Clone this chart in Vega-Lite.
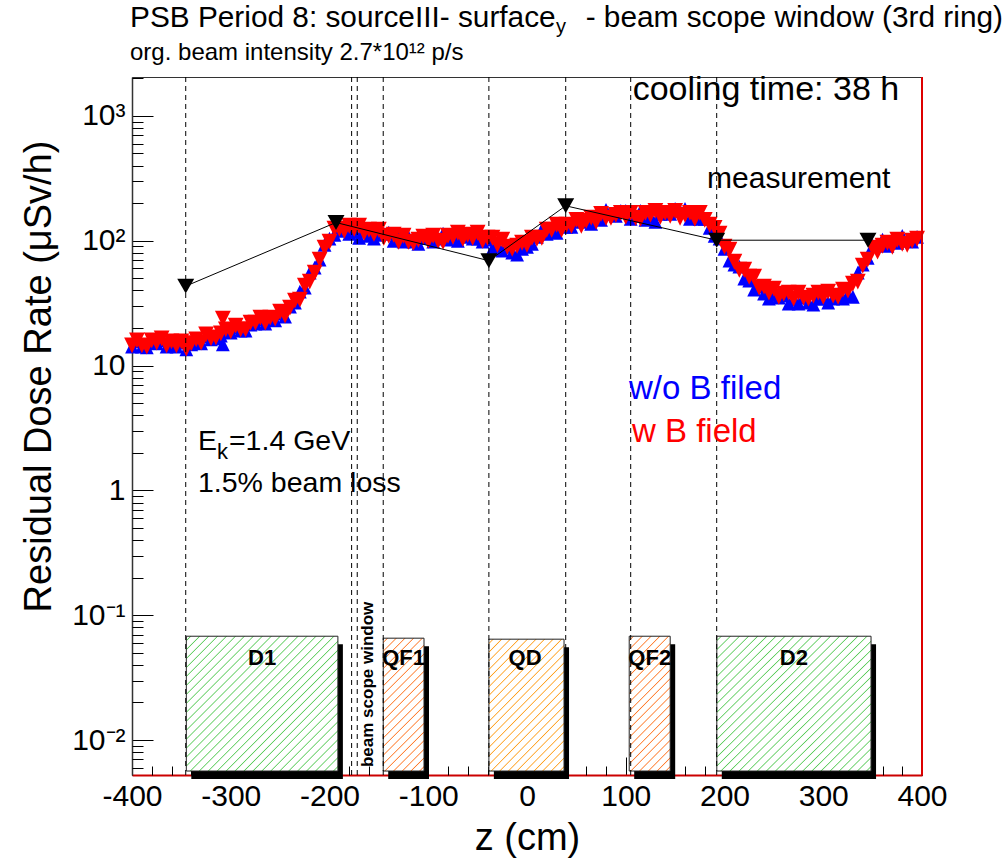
{
"$schema": "https://vega.github.io/schema/vega-lite/v6.json",
"width": 790, "height": 698,
"autosize": {"type": "none"},
"padding": {"left": 132, "top": 77, "right": 84, "bottom": 83},
"background": "white",
"config": {"view": {"stroke": "#333", "strokeWidth": 1}, "font": "Liberation Sans", "axis": {"labelFont": "Liberation Sans", "titleFont": "Liberation Sans", "labelColor": "black", "titleColor": "black", "titleFontWeight": "normal", "grid": false}},
"resolve": {"axis": {"x": "independent", "y": "independent"}},
"datasets": {
"curve": [
{"z":-400,"w":14.5,"wo":14.2},{"z":-395,"w":15.9,"wo":15.6},{"z":-390,"w":14.5,"wo":14.2},{"z":-385,"w":14.2,"wo":14.0},{"z":-380,"w":15.9,"wo":15.3},{"z":-375,"w":15.3,"wo":15.1},{"z":-370,"w":16.5,"wo":15.9},{"z":-365,"w":14.5,"wo":14.2},{"z":-360,"w":15.6,"wo":15.1},{"z":-355,"w":14.5,"wo":14.2},{"z":-350,"w":15.6,"wo":15.3},{"z":-345,"w":13.7,"wo":13.5},{"z":-340,"w":15.1,"wo":14.8},{"z":-335,"w":16.2,"wo":15.6},{"z":-330,"w":15.3,"wo":15.1},{"z":-325,"w":17.8,"wo":17.1},{"z":-320,"w":16.5,"wo":16.2},{"z":-315,"w":16.8,"wo":16.5},{"z":-310,"w":18.1,"wo":17.4},{"z":-308,"w":23.8,"wo":14.8},{"z":-305,"w":19.5,"wo":18.8},{"z":-300,"w":18.8,"wo":18.4},{"z":-295,"w":20.9,"wo":20.2},{"z":-290,"w":19.5,"wo":19.1},{"z":-285,"w":19.5,"wo":19.1},{"z":-280,"w":22.1,"wo":21.3},{"z":-275,"w":22.1,"wo":21.7},{"z":-270,"w":24.2,"wo":23.4},{"z":-265,"w":22.1,"wo":21.7},{"z":-260,"w":24.2,"wo":23.4},{"z":-255,"w":23.8,"wo":23.0},{"z":-250,"w":27.0,"wo":26.1},{"z":-245,"w":25.1,"wo":24.7},{"z":-240,"w":29.1,"wo":29.7},{"z":-235,"w":33.1,"wo":31.9},{"z":-230,"w":33.7,"wo":39.1},{"z":-225,"w":43.7,"wo":42.1},{"z":-220,"w":47.0,"wo":55.5},{"z":-215,"w":55.5,"wo":60.8},{"z":-210,"w":70.5,"wo":70.5},{"z":-205,"w":87.9,"wo":92.9},{"z":-200,"w":98.2,"wo":103.8},{"z":-195,"w":124.7,"wo":111.7},{"z":-190,"w":124.7,"wo":120.2},{"z":-185,"w":120.2,"wo":129.4},{"z":-180,"w":131.8,"wo":113.8},{"z":-175,"w":124.7,"wo":118.0},{"z":-170,"w":131.8,"wo":105.7},{"z":-165,"w":115.9,"wo":120.2},{"z":-160,"w":122.5,"wo":109.6},{"z":-155,"w":113.8,"wo":103.8},{"z":-150,"w":122.5,"wo":111.7},{"z":-145,"w":105.7,"wo":113.8},{"z":-140,"w":109.6,"wo":115.9},{"z":-135,"w":111.7,"wo":100},{"z":-130,"w":98.2,"wo":105.7},{"z":-125,"w":109.6,"wo":98.2},{"z":-120,"w":98.2,"wo":107.6},{"z":-115,"w":96.4,"wo":98.2},{"z":-110,"w":101.9,"wo":94.6},{"z":-105,"w":107.6,"wo":105.7},{"z":-100,"w":100,"wo":105.7},{"z":-95,"w":109.6,"wo":98.2},{"z":-90,"w":100,"wo":103.8},{"z":-85,"w":98.2,"wo":113.8},{"z":-80,"w":109.6,"wo":101.9},{"z":-75,"w":107.6,"wo":109.6},{"z":-70,"w":115.9,"wo":100},{"z":-65,"w":103.8,"wo":115.9},{"z":-60,"w":111.7,"wo":107.6},{"z":-55,"w":105.7,"wo":103.8},{"z":-50,"w":115.9,"wo":103.8},{"z":-45,"w":100,"wo":98.2},{"z":-40,"w":105.7,"wo":101.9},{"z":-35,"w":105.7,"wo":86.3},{"z":-30,"w":92.9,"wo":91.2},{"z":-25,"w":101.9,"wo":83.2},{"z":-20,"w":89.5,"wo":89.5},{"z":-15,"w":86.3,"wo":80.2},{"z":-10,"w":91.2,"wo":77.3},{"z":-5,"w":96.4,"wo":86.3},{"z":0,"w":92.9,"wo":89.5},{"z":5,"w":105.7,"wo":94.6},{"z":10,"w":103.8,"wo":107.6},{"z":15,"w":105.7,"wo":122.5},{"z":20,"w":122.5,"wo":113.8},{"z":25,"w":122.5,"wo":124.7},{"z":30,"w":134.3,"wo":115.9},{"z":35,"w":122.5,"wo":136.8},{"z":40,"w":134.3,"wo":129.4},{"z":45,"w":131.8,"wo":129.4},{"z":50,"w":147.2,"wo":144.5},{"z":55,"w":131.8,"wo":141.9},{"z":60,"w":144.5,"wo":152.8},{"z":65,"w":152.8,"wo":136.8},{"z":70,"w":141.9,"wo":152.8},{"z":75,"w":164.4,"wo":147.2},{"z":80,"w":152.8,"wo":177.0},{"z":85,"w":152.8,"wo":164.4},{"z":90,"w":161.4,"wo":158.5},{"z":95,"w":167.5,"wo":173.8},{"z":100,"w":155.6,"wo":173.8},{"z":105,"w":167.5,"wo":150.0},{"z":110,"w":152.8,"wo":158.5},{"z":115,"w":150.0,"wo":173.8},{"z":120,"w":167.5,"wo":147.2},{"z":125,"w":161.4,"wo":155.6},{"z":130,"w":173.8,"wo":141.9},{"z":135,"w":155.6,"wo":164.4},{"z":140,"w":167.5,"wo":170.6},{"z":145,"w":158.5,"wo":164.4},{"z":150,"w":173.8,"wo":180.3},{"z":155,"w":152.8,"wo":173.8},{"z":160,"w":161.4,"wo":180.3},{"z":165,"w":167.5,"wo":150.0},{"z":170,"w":150.0,"wo":161.4},{"z":175,"w":167.5,"wo":150.0},{"z":180,"w":147.2,"wo":150.0},{"z":185,"w":134.3,"wo":127.0},{"z":190,"w":127.0,"wo":109.6},{"z":195,"w":113.8,"wo":103.8},{"z":200,"w":89.5,"wo":86.3},{"z":205,"w":84.7,"wo":69.2},{"z":210,"w":67.9,"wo":64.3},{"z":215,"w":58.6,"wo":62.0},{"z":220,"w":58.6,"wo":49.7},{"z":225,"w":51.5,"wo":47.9},{"z":230,"w":51.5,"wo":40.6},{"z":235,"w":42.1,"wo":42.9},{"z":240,"w":42.9,"wo":37.7},{"z":245,"w":38.4,"wo":34.4},{"z":250,"w":41.3,"wo":37.0},{"z":255,"w":35.6,"wo":35.0},{"z":260,"w":37.7,"wo":36.3},{"z":265,"w":38.4,"wo":31.3},{"z":270,"w":34.4,"wo":33.7},{"z":275,"w":38.4,"wo":31.3},{"z":280,"w":35.0,"wo":35.0},{"z":285,"w":34.4,"wo":31.9},{"z":290,"w":36.3,"wo":30.8},{"z":295,"w":38.4,"wo":34.4},{"z":300,"w":35.6,"wo":34.4},{"z":305,"w":39.1,"wo":31.9},{"z":310,"w":36.3,"wo":34.4},{"z":315,"w":35.6,"wo":37.7},{"z":320,"w":40.6,"wo":34.4},{"z":325,"w":39.8,"wo":37.0},{"z":330,"w":45.3,"wo":35.6},{"z":335,"w":47.0,"wo":55.5},{"z":340,"w":63.1,"wo":64.3},{"z":345,"w":70.5,"wo":73.1},{"z":350,"w":87.9,"wo":91.2},{"z":355,"w":81.7,"wo":92.9},{"z":360,"w":91.2,"wo":101.9},{"z":365,"w":96.4,"wo":91.2},{"z":370,"w":89.5,"wo":101.9},{"z":375,"w":101.9,"wo":96.4},{"z":380,"w":94.6,"wo":109.6},{"z":385,"w":92.9,"wo":100},{"z":390,"w":100,"wo":98.2},{"z":395,"w":103.8,"wo":107.6}
],
"meas": [{"z":-345.6,"d":43.3},{"z":-193.4,"d":140},{"z":-38.6,"d":69.2},{"z":39.2,"d":190.5},{"z":192.1,"d":101},{"z":345.3,"d":101}],
"magnets": [
{"name":"D1","kind":"D","z1":-345,"z2":-191.5,"top":0.0679,"bot":0.00565,"zc":-268.3},
{"name":"QF1","kind":"QF","z1":-145.6,"z2":-104.3,"top":0.0655,"bot":0.00565,"zc":-125},
{"name":"QD","kind":"QD","z1":-38.6,"z2":37.5,"top":0.0643,"bot":0.00565,"zc":-2},
{"name":"QF2","kind":"QF","z1":103.5,"z2":145,"top":0.0679,"bot":0.00565,"zc":124.3},
{"name":"D2","kind":"D","z1":192.2,"z2":348.4,"top":0.0679,"bot":0.00565,"zc":270.3}
],
"lines": [{"z":-345.6},{"z":-177.6},{"z":-171.9},{"z":-145.6},{"z":-38.6},{"z":39.2},{"z":105},{"z":192.1}]
},
"layer": [
{"data":{"name":"magnets"},
 "mark":{"type":"rect","fill":"black","xOffset":5,"x2Offset":5,"yOffset":8,"y2Offset":8},
 "encoding":{"x":{"field":"z1","type":"quantitative","scale":{"domain":[-400,400],"nice":false,"zero":false},"axis":null},"x2":{"field":"z2"},
  "y":{"field":"top","type":"quantitative","scale":{"type":"log","domain":[0.00525,2050],"nice":false},"axis":null},"y2":{"field":"bot"}}},
{"data":{"name":"magnets"},"transform":[{"filter":"datum.kind === 'D'"}],
 "mark":{"type":"rect","stroke":"#222","strokeWidth":1,"fill":{"gradient":"linear","x1":0,"y1":0,"x2":1.0555,"y2":0.9375,"stops":[
 {"offset":0.0116,"color":"#ffffff"},{"offset":0.0156,"color":"#5ccc5c"},{"offset":0.0196,"color":"#ffffff"},
 {"offset":0.0429,"color":"#ffffff"},{"offset":0.0469,"color":"#5ccc5c"},{"offset":0.0509,"color":"#ffffff"},
 {"offset":0.0741,"color":"#ffffff"},{"offset":0.0781,"color":"#5ccc5c"},{"offset":0.0821,"color":"#ffffff"},
 {"offset":0.1054,"color":"#ffffff"},{"offset":0.1094,"color":"#5ccc5c"},{"offset":0.1134,"color":"#ffffff"},
 {"offset":0.1366,"color":"#ffffff"},{"offset":0.1406,"color":"#5ccc5c"},{"offset":0.1446,"color":"#ffffff"},
 {"offset":0.1679,"color":"#ffffff"},{"offset":0.1719,"color":"#5ccc5c"},{"offset":0.1759,"color":"#ffffff"},
 {"offset":0.1991,"color":"#ffffff"},{"offset":0.2031,"color":"#5ccc5c"},{"offset":0.2071,"color":"#ffffff"},
 {"offset":0.2304,"color":"#ffffff"},{"offset":0.2344,"color":"#5ccc5c"},{"offset":0.2384,"color":"#ffffff"},
 {"offset":0.2616,"color":"#ffffff"},{"offset":0.2656,"color":"#5ccc5c"},{"offset":0.2696,"color":"#ffffff"},
 {"offset":0.2929,"color":"#ffffff"},{"offset":0.2969,"color":"#5ccc5c"},{"offset":0.3009,"color":"#ffffff"},
 {"offset":0.3241,"color":"#ffffff"},{"offset":0.3281,"color":"#5ccc5c"},{"offset":0.3321,"color":"#ffffff"},
 {"offset":0.3554,"color":"#ffffff"},{"offset":0.3594,"color":"#5ccc5c"},{"offset":0.3634,"color":"#ffffff"},
 {"offset":0.3866,"color":"#ffffff"},{"offset":0.3906,"color":"#5ccc5c"},{"offset":0.3946,"color":"#ffffff"},
 {"offset":0.4179,"color":"#ffffff"},{"offset":0.4219,"color":"#5ccc5c"},{"offset":0.4259,"color":"#ffffff"},
 {"offset":0.4491,"color":"#ffffff"},{"offset":0.4531,"color":"#5ccc5c"},{"offset":0.4571,"color":"#ffffff"},
 {"offset":0.4804,"color":"#ffffff"},{"offset":0.4844,"color":"#5ccc5c"},{"offset":0.4884,"color":"#ffffff"},
 {"offset":0.5116,"color":"#ffffff"},{"offset":0.5156,"color":"#5ccc5c"},{"offset":0.5196,"color":"#ffffff"},
 {"offset":0.5429,"color":"#ffffff"},{"offset":0.5469,"color":"#5ccc5c"},{"offset":0.5509,"color":"#ffffff"},
 {"offset":0.5741,"color":"#ffffff"},{"offset":0.5781,"color":"#5ccc5c"},{"offset":0.5821,"color":"#ffffff"},
 {"offset":0.6054,"color":"#ffffff"},{"offset":0.6094,"color":"#5ccc5c"},{"offset":0.6134,"color":"#ffffff"},
 {"offset":0.6366,"color":"#ffffff"},{"offset":0.6406,"color":"#5ccc5c"},{"offset":0.6446,"color":"#ffffff"},
 {"offset":0.6679,"color":"#ffffff"},{"offset":0.6719,"color":"#5ccc5c"},{"offset":0.6759,"color":"#ffffff"},
 {"offset":0.6991,"color":"#ffffff"},{"offset":0.7031,"color":"#5ccc5c"},{"offset":0.7071,"color":"#ffffff"},
 {"offset":0.7304,"color":"#ffffff"},{"offset":0.7344,"color":"#5ccc5c"},{"offset":0.7384,"color":"#ffffff"},
 {"offset":0.7616,"color":"#ffffff"},{"offset":0.7656,"color":"#5ccc5c"},{"offset":0.7696,"color":"#ffffff"},
 {"offset":0.7929,"color":"#ffffff"},{"offset":0.7969,"color":"#5ccc5c"},{"offset":0.8009,"color":"#ffffff"},
 {"offset":0.8241,"color":"#ffffff"},{"offset":0.8281,"color":"#5ccc5c"},{"offset":0.8321,"color":"#ffffff"},
 {"offset":0.8554,"color":"#ffffff"},{"offset":0.8594,"color":"#5ccc5c"},{"offset":0.8634,"color":"#ffffff"},
 {"offset":0.8866,"color":"#ffffff"},{"offset":0.8906,"color":"#5ccc5c"},{"offset":0.8946,"color":"#ffffff"},
 {"offset":0.9179,"color":"#ffffff"},{"offset":0.9219,"color":"#5ccc5c"},{"offset":0.9259,"color":"#ffffff"},
 {"offset":0.9491,"color":"#ffffff"},{"offset":0.9531,"color":"#5ccc5c"},{"offset":0.9571,"color":"#ffffff"},
 {"offset":0.9804,"color":"#ffffff"},{"offset":0.9844,"color":"#5ccc5c"},{"offset":0.9884,"color":"#ffffff"}]}},
 "encoding":{"x":{"field":"z1","type":"quantitative","scale":{"domain":[-400,400],"nice":false,"zero":false},"axis":null},"x2":{"field":"z2"},
  "y":{"field":"top","type":"quantitative","scale":{"type":"log","domain":[0.00525,2050],"nice":false},"axis":null},"y2":{"field":"bot"}}},
{"data":{"name":"magnets"},"transform":[{"filter":"datum.kind === 'QF'"}],
 "mark":{"type":"rect","stroke":"#222","strokeWidth":1,"fill":{"gradient":"linear","x1":0,"y1":0,"x2":0.3654,"y2":1.1942,"stops":[
 {"offset":0.0185,"color":"#ffffff"},{"offset":0.025,"color":"#ff7a2a"},{"offset":0.0315,"color":"#ffffff"},
 {"offset":0.0685,"color":"#ffffff"},{"offset":0.075,"color":"#ff7a2a"},{"offset":0.0815,"color":"#ffffff"},
 {"offset":0.1185,"color":"#ffffff"},{"offset":0.125,"color":"#ff7a2a"},{"offset":0.1315,"color":"#ffffff"},
 {"offset":0.1685,"color":"#ffffff"},{"offset":0.175,"color":"#ff7a2a"},{"offset":0.1815,"color":"#ffffff"},
 {"offset":0.2185,"color":"#ffffff"},{"offset":0.225,"color":"#ff7a2a"},{"offset":0.2315,"color":"#ffffff"},
 {"offset":0.2685,"color":"#ffffff"},{"offset":0.275,"color":"#ff7a2a"},{"offset":0.2815,"color":"#ffffff"},
 {"offset":0.3185,"color":"#ffffff"},{"offset":0.325,"color":"#ff7a2a"},{"offset":0.3315,"color":"#ffffff"},
 {"offset":0.3685,"color":"#ffffff"},{"offset":0.375,"color":"#ff7a2a"},{"offset":0.3815,"color":"#ffffff"},
 {"offset":0.4185,"color":"#ffffff"},{"offset":0.425,"color":"#ff7a2a"},{"offset":0.4315,"color":"#ffffff"},
 {"offset":0.4685,"color":"#ffffff"},{"offset":0.475,"color":"#ff7a2a"},{"offset":0.4815,"color":"#ffffff"},
 {"offset":0.5185,"color":"#ffffff"},{"offset":0.525,"color":"#ff7a2a"},{"offset":0.5315,"color":"#ffffff"},
 {"offset":0.5685,"color":"#ffffff"},{"offset":0.575,"color":"#ff7a2a"},{"offset":0.5815,"color":"#ffffff"},
 {"offset":0.6185,"color":"#ffffff"},{"offset":0.625,"color":"#ff7a2a"},{"offset":0.6315,"color":"#ffffff"},
 {"offset":0.6685,"color":"#ffffff"},{"offset":0.675,"color":"#ff7a2a"},{"offset":0.6815,"color":"#ffffff"},
 {"offset":0.7185,"color":"#ffffff"},{"offset":0.725,"color":"#ff7a2a"},{"offset":0.7315,"color":"#ffffff"},
 {"offset":0.7685,"color":"#ffffff"},{"offset":0.775,"color":"#ff7a2a"},{"offset":0.7815,"color":"#ffffff"},
 {"offset":0.8185,"color":"#ffffff"},{"offset":0.825,"color":"#ff7a2a"},{"offset":0.8315,"color":"#ffffff"},
 {"offset":0.8685,"color":"#ffffff"},{"offset":0.875,"color":"#ff7a2a"},{"offset":0.8815,"color":"#ffffff"},
 {"offset":0.9185,"color":"#ffffff"},{"offset":0.925,"color":"#ff7a2a"},{"offset":0.9315,"color":"#ffffff"},
 {"offset":0.9685,"color":"#ffffff"},{"offset":0.975,"color":"#ff7a2a"},{"offset":0.9815,"color":"#ffffff"}]}},
 "encoding":{"x":{"field":"z1","type":"quantitative","scale":{"domain":[-400,400],"nice":false,"zero":false},"axis":null},"x2":{"field":"z2"},
  "y":{"field":"top","type":"quantitative","scale":{"type":"log","domain":[0.00525,2050],"nice":false},"axis":null},"y2":{"field":"bot"}}},
{"data":{"name":"magnets"},"transform":[{"filter":"datum.kind === 'QD'"}],
 "mark":{"type":"rect","stroke":"#222","strokeWidth":1,"fill":{"gradient":"linear","x1":0,"y1":0,"x2":0.6815,"y2":1.1835,"stops":[
 {"offset":0.0153,"color":"#ffffff"},{"offset":0.0208,"color":"#ffa01e"},{"offset":0.0263,"color":"#ffffff"},
 {"offset":0.0570,"color":"#ffffff"},{"offset":0.0625,"color":"#ffa01e"},{"offset":0.0680,"color":"#ffffff"},
 {"offset":0.0987,"color":"#ffffff"},{"offset":0.1042,"color":"#ffa01e"},{"offset":0.1097,"color":"#ffffff"},
 {"offset":0.1403,"color":"#ffffff"},{"offset":0.1458,"color":"#ffa01e"},{"offset":0.1513,"color":"#ffffff"},
 {"offset":0.1820,"color":"#ffffff"},{"offset":0.1875,"color":"#ffa01e"},{"offset":0.1930,"color":"#ffffff"},
 {"offset":0.2237,"color":"#ffffff"},{"offset":0.2292,"color":"#ffa01e"},{"offset":0.2347,"color":"#ffffff"},
 {"offset":0.2653,"color":"#ffffff"},{"offset":0.2708,"color":"#ffa01e"},{"offset":0.2763,"color":"#ffffff"},
 {"offset":0.3070,"color":"#ffffff"},{"offset":0.3125,"color":"#ffa01e"},{"offset":0.3180,"color":"#ffffff"},
 {"offset":0.3487,"color":"#ffffff"},{"offset":0.3542,"color":"#ffa01e"},{"offset":0.3597,"color":"#ffffff"},
 {"offset":0.3903,"color":"#ffffff"},{"offset":0.3958,"color":"#ffa01e"},{"offset":0.4013,"color":"#ffffff"},
 {"offset":0.4320,"color":"#ffffff"},{"offset":0.4375,"color":"#ffa01e"},{"offset":0.4430,"color":"#ffffff"},
 {"offset":0.4737,"color":"#ffffff"},{"offset":0.4792,"color":"#ffa01e"},{"offset":0.4847,"color":"#ffffff"},
 {"offset":0.5153,"color":"#ffffff"},{"offset":0.5208,"color":"#ffa01e"},{"offset":0.5263,"color":"#ffffff"},
 {"offset":0.5570,"color":"#ffffff"},{"offset":0.5625,"color":"#ffa01e"},{"offset":0.5680,"color":"#ffffff"},
 {"offset":0.5987,"color":"#ffffff"},{"offset":0.6042,"color":"#ffa01e"},{"offset":0.6097,"color":"#ffffff"},
 {"offset":0.6403,"color":"#ffffff"},{"offset":0.6458,"color":"#ffa01e"},{"offset":0.6513,"color":"#ffffff"},
 {"offset":0.6820,"color":"#ffffff"},{"offset":0.6875,"color":"#ffa01e"},{"offset":0.6930,"color":"#ffffff"},
 {"offset":0.7237,"color":"#ffffff"},{"offset":0.7292,"color":"#ffa01e"},{"offset":0.7347,"color":"#ffffff"},
 {"offset":0.7653,"color":"#ffffff"},{"offset":0.7708,"color":"#ffa01e"},{"offset":0.7763,"color":"#ffffff"},
 {"offset":0.8070,"color":"#ffffff"},{"offset":0.8125,"color":"#ffa01e"},{"offset":0.8180,"color":"#ffffff"},
 {"offset":0.8487,"color":"#ffffff"},{"offset":0.8542,"color":"#ffa01e"},{"offset":0.8597,"color":"#ffffff"},
 {"offset":0.8903,"color":"#ffffff"},{"offset":0.8958,"color":"#ffa01e"},{"offset":0.9013,"color":"#ffffff"},
 {"offset":0.9320,"color":"#ffffff"},{"offset":0.9375,"color":"#ffa01e"},{"offset":0.9430,"color":"#ffffff"},
 {"offset":0.9737,"color":"#ffffff"},{"offset":0.9792,"color":"#ffa01e"},{"offset":0.9847,"color":"#ffffff"}]}},
 "encoding":{"x":{"field":"z1","type":"quantitative","scale":{"domain":[-400,400],"nice":false,"zero":false},"axis":null},"x2":{"field":"z2"},
  "y":{"field":"top","type":"quantitative","scale":{"type":"log","domain":[0.00525,2050],"nice":false},"axis":null},"y2":{"field":"bot"}}},
{"data":{"name":"magnets"},
 "mark":{"type":"text","font":"Liberation Sans","fontWeight":"bold","fontSize":22,"align":"center","baseline":"alphabetic","color":"black"},
 "encoding":{"x":{"field":"zc","type":"quantitative","scale":{"domain":[-400,400],"nice":false,"zero":false},"axis":null},
  "y":{"datum":0.0398,"type":"quantitative","scale":{"type":"log","domain":[0.00525,2050],"nice":false},"axis":null},"text":{"field":"name"}}},
{"data":{"values":[{}]},
 "mark":{"type":"text","text":"beam scope window","font":"Liberation Sans","fontWeight":"bold","fontSize":17,"angle":270,"align":"left","baseline":"alphabetic","color":"black"},
 "encoding":{"x":{"datum":-156,"type":"quantitative","scale":{"domain":[-400,400],"nice":false,"zero":false},"axis":null},
  "y":{"datum":0.00608,"type":"quantitative","scale":{"type":"log","domain":[0.00525,2050],"nice":false},"axis":null}}},
{"data":{"name":"curve"},
 "mark":{"type":"point","shape":"M0,-1L1,1L-1,1Z","size":190,"filled":true,"color":"#0000ff","opacity":1,"strokeWidth":0},
 "encoding":{"x":{"field":"z","type":"quantitative","scale":{"domain":[-400,400],"nice":false,"zero":false},
   "axis":{"orient":"bottom","values":[-400,-300,-200,-100,0,100,200,300,400],
    "title":"z (cm)","titleFontSize":38,"titleY":74,"titleBaseline":"alphabetic",
    "labelFontSize":30,"labelPadding":24,"labelFlush":false,"labelOverlap":false,
    "labelExpr":"datum.value < 0 ? '-' + abs(datum.value) : '' + datum.value",
    "tickSize":-18,"tickColor":"black","tickWidth":1,"domainColor":"#cc0000","domainWidth":2,"grid":false}},
  "y":{"field":"wo","type":"quantitative","scale":{"type":"log","domain":[0.00525,2050],"nice":false},
   "axis":{"orient":"left","values":[0.01,0.1,1,10,100,1000],
    "title":"Residual Dose Rate (μSv/h)","titleFontSize":38,"titleAngle":270,"titleX":-82,"titleY":299,"titleAlign":"center","titleBaseline":"alphabetic",
    "labelFontSize":30,"labelPadding":28,"labelOverlap":false,"labelFlush":false,
    "labelExpr":"datum.value > 500 ? '10³' : datum.value > 50 ? '10²' : datum.value > 5 ? '10' : datum.value > 0.5 ? '1' : datum.value > 0.05 ? '10⁻¹' : '10⁻²'",
    "tickSize":-21,"tickColor":"black","tickWidth":1,"domainColor":"#333","domainWidth":1.5,"grid":false}}}},
{"data":{"name":"curve"},
 "mark":{"type":"point","shape":"M-1,-1L1,-1L0,1Z","size":250,"filled":true,"color":"#ff0000","opacity":1,"strokeWidth":0},
 "encoding":{"x":{"field":"z","type":"quantitative","scale":{"domain":[-400,400],"nice":false,"zero":false},
   "axis":{"orient":"bottom","values":[-380,-360,-340,-320,-280,-260,-240,-220,-180,-160,-140,-120,-80,-60,-40,-20,20,40,60,80,120,140,160,180,220,240,260,280,320,340,360,380],
    "title":null,"labels":false,"domain":false,"tickSize":-9,"tickColor":"black","tickWidth":1,"grid":false}},
  "y":{"field":"w","type":"quantitative","scale":{"type":"log","domain":[0.00525,2050],"nice":false},
   "axis":{"orient":"left","values":[0.006,0.007,0.008,0.009,0.02,0.03,0.04,0.05,0.06,0.07,0.08,0.09,0.2,0.3,0.4,0.5,0.6,0.7,0.8,0.9,2,3,4,5,6,7,8,9,20,30,40,50,60,70,80,90,200,300,400,500,600,700,800,900,2000],
    "title":null,"labels":false,"domain":false,"tickSize":-11,"tickColor":"black","tickWidth":1,"grid":false}}}},
{"data":{"name":"meas"},
 "mark":{"type":"line","color":"black","strokeWidth":1},
 "encoding":{"x":{"field":"z","type":"quantitative","scale":{"domain":[-400,400],"nice":false,"zero":false},"axis":null},
  "y":{"field":"d","type":"quantitative","scale":{"type":"log","domain":[0.00525,2050],"nice":false},"axis":null}}},
{"data":{"name":"meas"},
 "mark":{"type":"point","shape":"M-1,-0.88L1,-0.88L0,0.88Z","size":289,"filled":true,"color":"black","opacity":1,"strokeWidth":0},
 "encoding":{"x":{"field":"z","type":"quantitative","scale":{"domain":[-400,400],"nice":false,"zero":false},"axis":null},
  "y":{"field":"d","type":"quantitative","scale":{"type":"log","domain":[0.00525,2050],"nice":false},"axis":null}}},
{"data":{"name":"lines"},
 "mark":{"type":"rule","color":"black","strokeWidth":1,"strokeDash":[5,4]},
 "encoding":{"x":{"field":"z","type":"quantitative","scale":{"domain":[-400,400],"nice":false,"zero":false},"axis":null}}},
{"data":{"values":[{}]},
 "mark":{"type":"rule","color":"#dd0000","strokeWidth":2},
 "encoding":{"x":{"datum":400,"type":"quantitative","scale":{"domain":[-400,400],"nice":false,"zero":false},"axis":null}}},
{"data":{"values":[{}]},
 "mark":{"type":"text","text":"PSB Period 8: sourceIII- surface","font":"Liberation Sans","fontSize":29.8,"align":"left","baseline":"alphabetic","color":"black"},
 "encoding":{"x":{"datum":-402,"type":"quantitative","scale":{"domain":[-400,400],"nice":false,"zero":false},"axis":null},
  "y":{"datum":5152,"type":"quantitative","scale":{"type":"log","domain":[0.00525,2050],"nice":false},"axis":null}}},
{"data":{"values":[{}]},
 "mark":{"type":"text","text":"y","font":"Liberation Sans","fontSize":20,"align":"left","baseline":"alphabetic","color":"black"},
 "encoding":{"x":{"datum":29.4,"type":"quantitative","scale":{"domain":[-400,400],"nice":false,"zero":false},"axis":null},
  "y":{"datum":4613,"type":"quantitative","scale":{"type":"log","domain":[0.00525,2050],"nice":false},"axis":null}}},
{"data":{"values":[{}]},
 "mark":{"type":"text","text":" - beam scope window (3rd ring)","font":"Liberation Sans","fontSize":29.8,"align":"right","baseline":"alphabetic","color":"black"},
 "encoding":{"x":{"datum":482,"type":"quantitative","scale":{"domain":[-400,400],"nice":false,"zero":false},"axis":null},
  "y":{"datum":5152,"type":"quantitative","scale":{"type":"log","domain":[0.00525,2050],"nice":false},"axis":null}}},
{"data":{"values":[{}]},
 "mark":{"type":"text","text":"org. beam intensity 2.7*10¹² p/s","font":"Liberation Sans","fontSize":24,"align":"left","baseline":"alphabetic","color":"black"},
 "encoding":{"x":{"datum":-402,"type":"quantitative","scale":{"domain":[-400,400],"nice":false,"zero":false},"axis":null},
  "y":{"datum":2800,"type":"quantitative","scale":{"type":"log","domain":[0.00525,2050],"nice":false},"axis":null}}},
{"data":{"values":[{}]},
 "mark":{"type":"text","text":"cooling time: 38 h","font":"Liberation Sans","fontSize":34,"align":"left","baseline":"alphabetic","color":"black"},
 "encoding":{"x":{"datum":107,"type":"quantitative","scale":{"domain":[-400,400],"nice":false,"zero":false},"axis":null},
  "y":{"datum":1330,"type":"quantitative","scale":{"type":"log","domain":[0.00525,2050],"nice":false},"axis":null}}},
{"data":{"values":[{}]},
 "mark":{"type":"text","text":"measurement","font":"Liberation Sans","fontSize":30,"align":"left","baseline":"alphabetic","color":"black"},
 "encoding":{"x":{"datum":182.3,"type":"quantitative","scale":{"domain":[-400,400],"nice":false,"zero":false},"axis":null},
  "y":{"datum":265.5,"type":"quantitative","scale":{"type":"log","domain":[0.00525,2050],"nice":false},"axis":null}}},
{"data":{"values":[{}]},
 "mark":{"type":"text","text":"E","font":"Liberation Sans","fontSize":28.5,"align":"left","baseline":"alphabetic","color":"black"},
 "encoding":{"x":{"datum":-333.2,"type":"quantitative","scale":{"domain":[-400,400],"nice":false,"zero":false},"axis":null},
  "y":{"datum":2.089,"type":"quantitative","scale":{"type":"log","domain":[0.00525,2050],"nice":false},"axis":null}}},
{"data":{"values":[{}]},
 "mark":{"type":"text","text":"k","font":"Liberation Sans","fontSize":22,"align":"left","baseline":"alphabetic","color":"black"},
 "encoding":{"x":{"datum":-313.9,"type":"quantitative","scale":{"domain":[-400,400],"nice":false,"zero":false},"axis":null},
  "y":{"datum":1.77,"type":"quantitative","scale":{"type":"log","domain":[0.00525,2050],"nice":false},"axis":null}}},
{"data":{"values":[{}]},
 "mark":{"type":"text","text":"=1.4 GeV","font":"Liberation Sans","fontSize":28.5,"align":"left","baseline":"alphabetic","color":"black"},
 "encoding":{"x":{"datum":-301.8,"type":"quantitative","scale":{"domain":[-400,400],"nice":false,"zero":false},"axis":null},
  "y":{"datum":2.089,"type":"quantitative","scale":{"type":"log","domain":[0.00525,2050],"nice":false},"axis":null}}},
{"data":{"values":[{}]},
 "mark":{"type":"text","text":"1.5% beam loss","font":"Liberation Sans","fontSize":28.5,"align":"left","baseline":"alphabetic","color":"black"},
 "encoding":{"x":{"datum":-333.2,"type":"quantitative","scale":{"domain":[-400,400],"nice":false,"zero":false},"axis":null},
  "y":{"datum":0.964,"type":"quantitative","scale":{"type":"log","domain":[0.00525,2050],"nice":false},"axis":null}}},
{"data":{"values":[{}]},
 "mark":{"type":"text","text":"w/o B filed","font":"Liberation Sans","fontSize":33,"align":"left","baseline":"alphabetic","color":"#0000ff"},
 "encoding":{"x":{"datum":103.3,"type":"quantitative","scale":{"domain":[-400,400],"nice":false,"zero":false},"axis":null},
  "y":{"datum":5.445,"type":"quantitative","scale":{"type":"log","domain":[0.00525,2050],"nice":false},"axis":null}}},
{"data":{"values":[{}]},
 "mark":{"type":"text","text":"w B field","font":"Liberation Sans","fontSize":33,"align":"left","baseline":"alphabetic","color":"#ff0000"},
 "encoding":{"x":{"datum":106.3,"type":"quantitative","scale":{"domain":[-400,400],"nice":false,"zero":false},"axis":null},
  "y":{"datum":2.421,"type":"quantitative","scale":{"type":"log","domain":[0.00525,2050],"nice":false},"axis":null}}}
]
}
